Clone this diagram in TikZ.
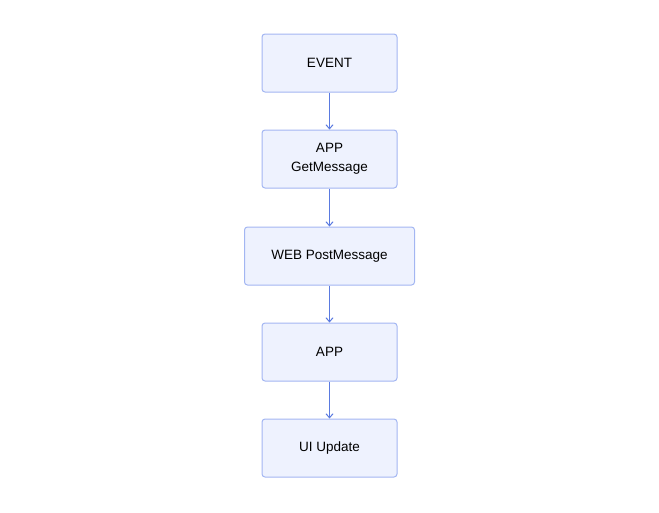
\documentclass[tikz,border=0pt]{standalone}
\usepackage{fontspec}
\setmainfont{Liberation Sans}
\usetikzlibrary{arrows.meta}
\definecolor{boxfill}{HTML}{EEF2FE}
\definecolor{boxline}{HTML}{A3B6F2}
\definecolor{arrowc}{HTML}{5A7AE0}
\begin{document}
\begin{tikzpicture}[x=1pt,y=-1pt,
  flowbox/.style={draw=boxline, fill=boxfill, line width=1pt, rounded corners=3pt,
    minimum width=135pt, minimum height=58pt, inner sep=0pt, align=center,
    font=\fontsize{13.5}{19}\selectfont, text=black},
  flowarrow/.style={draw=arrowc, line width=1pt, -{Straight Barb[length=4pt,width=7pt]}}]
\useasboundingbox (0,0) rectangle (659,512);
\node[flowbox] (event) at (329.5,63) {EVENT};
\node[flowbox] (getmsg) at (329.5,159) {APP\\GetMessage};
\node[flowbox, minimum width=170pt] (web) at (329.5,256) {WEB PostMessage};
\node[flowbox] (app) at (329.5,352) {APP};
\node[flowbox] (ui) at (329.5,448) {UI Update};
\draw[flowarrow] (event) -- (getmsg);
\draw[flowarrow] (getmsg) -- (web);
\draw[flowarrow] (web) -- (app);
\draw[flowarrow] (app) -- (ui);
\end{tikzpicture}
\end{document}
